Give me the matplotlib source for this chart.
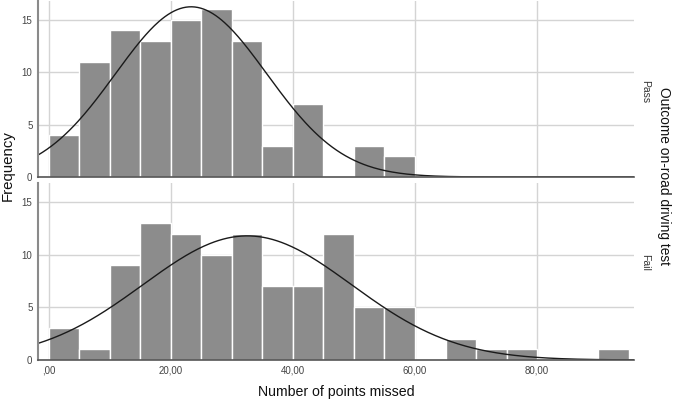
import numpy as np
import matplotlib
matplotlib.use("Agg")
import matplotlib.pyplot as plt

plt.rcParams['font.family'] = ['Liberation Sans', 'DejaVu Sans']

bin_edges = list(range(0, 100, 5))  # 0..95
pass_counts = [4, 11, 14, 13, 15, 16, 13, 3, 7, 0, 3, 2, 0, 0, 0, 0, 0, 0, 0]
fail_counts = [3, 1, 9, 13, 12, 10, 12, 7, 7, 12, 5, 5, 0, 2, 1, 1, 0, 0, 1]
pass_mean, pass_sd = 23.3, 12.4
fail_mean, fail_sd = 32.5, 17.1
groups = ["Pass", "Fail"]
xticks = [0, 20, 40, 60, 80]
xtick_labels = [",00", "20,00", "40,00", "60,00", "80,00"]
yticks = [0, 5, 10, 15]

W, H = 675, 401
fig = plt.figure(figsize=(W / 100, H / 100), dpi=100)
L, R = 38 / W, 634 / W
panels = [(1, 177), (183, 360)]
label_y = [92, 262]
bar_color = '#8c8c8c'
grid_color = '#d4d4d4'
spine_color = '#8a8a8a'

for i, (counts, mu, sd, grp) in enumerate(zip([pass_counts, fail_counts],
                                               [pass_mean, fail_mean],
                                               [pass_sd, fail_sd], groups)):
    top, bot = panels[i]
    ax = fig.add_axes([L, 1 - bot / H, R - L, (bot - top) / H])
    ax.set_xlim(-1.8, 95.9)
    ax.set_ylim(0, 16.8)
    ax.set_axisbelow(True)
    ax.grid(True, color=grid_color, linewidth=1.0)
    lefts = np.array(bin_edges[:-1])
    ax.bar(lefts, counts, width=5, align='edge', color=bar_color,
           edgecolor='white', linewidth=1.0)
    n = sum(counts)
    xs = np.linspace(-1.8, 95.9, 400)
    ys = n * 5 / (sd * np.sqrt(2 * np.pi)) * np.exp(-(xs - mu) ** 2 / (2 * sd ** 2))
    ax.plot(xs, ys, color='#1a1a1a', linewidth=1.0)
    ax.set_xticks(xticks)
    ax.set_yticks(yticks)
    ax.tick_params(length=0, labelsize=7, colors='#444444', pad=4)
    if i == 0:
        ax.set_xticklabels([])
    else:
        ax.set_xticklabels(xtick_labels)
    for s in ['top', 'right']:
        ax.spines[s].set_visible(False)
    ax.spines['left'].set_color(spine_color)
    ax.spines['left'].set_linewidth(1.5)
    ax.spines['bottom'].set_color('#555555')
    ax.spines['bottom'].set_linewidth(1.2)
    fig.text(640 / W, 1 - label_y[i] / H, grp, rotation=-90,
             ha='left', va='center', fontsize=7.5, color='#333333')

fig.text(8 / W, 1 - 166 / H, "Frequency", rotation=90, ha='center', va='center',
         fontsize=10.8, color='#111111')
fig.text(336 / W, 1 - 392 / H, "Number of points missed", ha='center', va='center',
         fontsize=10.2, color='#111111')
fig.text(664 / W, 1 - 176 / H, "Outcome on-road driving test", rotation=-90,
         ha='center', va='center', fontsize=9.9, color='#111111')

fig.savefig("out.png", dpi=100, facecolor='white')
